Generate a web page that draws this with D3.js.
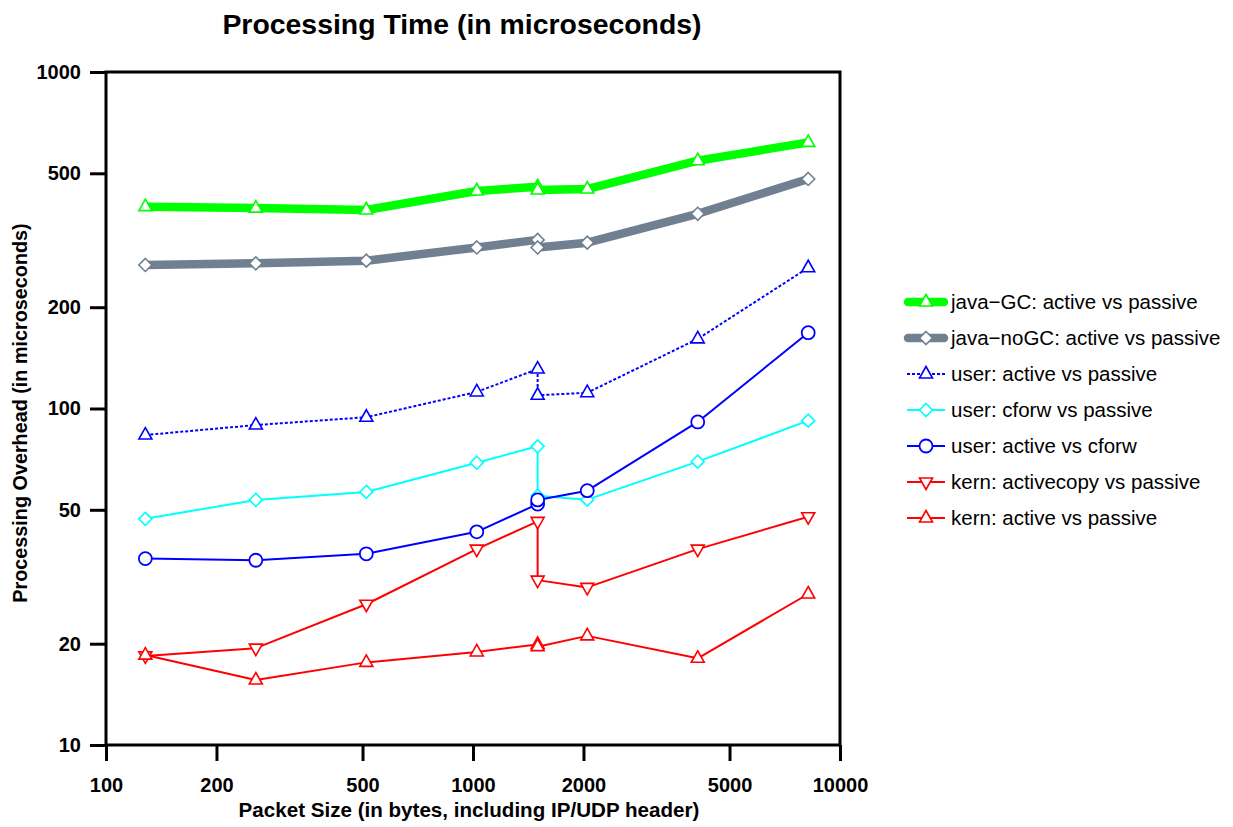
<!DOCTYPE html>
<html>
<head>
<meta charset="utf-8">
<script src="https://cdn.jsdelivr.net/npm/d3@7"></script>
<style>
  html, body { margin: 0; padding: 0; background: #fff; }
  svg { display: block; font-family: "Liberation Sans", Arial, Helvetica, sans-serif; }
</style>
</head>
<body>
<svg id="chart" width="1233" height="827"></svg>
<script>
// ---------- data ----------
const packetSizes = [128, 256, 512, 1024, 1500, 1500, 2048, 4096, 8192];
const javaGC      = [398, 394, 389, 443, 456, 446, 449, 545, 618];
const javaNoGC    = [267, 270, 275, 301, 317, 301, 311, 379, 481];
const userActivePassive = [83.4, 89.3, 94.2, 112, 131, 109.5, 111.4, 161, 262];
const userCforwPassive  = [47.0, 53.5, 56.5, 69.0, 77.2, 55.0, 53.6, 69.5, 92.0];
const userActiveCforw   = [35.8, 35.4, 37.0, 43.0, 52.0, 53.5, 57.0, 91.2, 168];
const kernActivecopyPassive = [18.4, 19.4, 26.2, 38.2, 46.2, 30.9, 29.4, 38.2, 47.7];
const kernActivePassive     = [18.5, 15.6, 17.6, 18.9, 19.9, 19.6, 21.1, 18.1, 28.1];
const seriesNames = [
  "java\u2212GC: active vs passive",
  "java\u2212noGC: active vs passive",
  "user: active vs passive",
  "user: cforw vs passive",
  "user: active vs cforw",
  "kern: activecopy vs passive",
  "kern: active vs passive"
];
const xTicks = [100, 200, 500, 1000, 2000, 5000, 10000];
const yTicks = [10, 20, 50, 100, 200, 500, 1000];
const titleText = "Processing Time (in microseconds)";
const xLabel = "Packet Size (in bytes, including IP/UDP header)";
const yLabel = "Processing Overhead (in microseconds)";

// ---------- styles ----------
const styles = [
  {values: javaGC, color: "#00ff00", width: 8.5, dash: null, marker: "tri", mstroke: "#00ff00"},
  {values: javaNoGC, color: "#708090", width: 8.5, dash: null, marker: "diamond", mstroke: "#708090"},
  {values: userActivePassive, color: "#0000ff", width: 2, dash: "3,2", marker: "tri", mstroke: "#0000ff"},
  {values: userCforwPassive, color: "#00ffff", width: 2, dash: null, marker: "diamond", mstroke: "#00ffff"},
  {values: userActiveCforw, color: "#0000ff", width: 2, dash: null, marker: "circle", mstroke: "#0000ff"},
  {values: kernActivecopyPassive, color: "#ff0000", width: 2, dash: null, marker: "dtri", mstroke: "#ff0000"},
  {values: kernActivePassive, color: "#ff0000", width: 2, dash: null, marker: "tri", mstroke: "#ff0000"}
];

const svg = d3.select("#chart");
const pLeft = 106, pRight = 840, pTop = 72, pBottom = 745;

const x = d3.scaleLog().domain([100, 10000]).range([pLeft, pRight]);
const y = d3.scaleLog().domain([10, 1000]).range([pBottom, pTop]);

// title
svg.append("text").attr("x", 462).attr("y", 34).attr("text-anchor", "middle")
  .attr("font-size", 28.4).attr("font-weight", "bold").text(titleText);

// axes
const xAxis = d3.axisBottom(x).tickValues(xTicks).tickFormat(d3.format("d")).tickSize(16).tickPadding(17);
const yAxis = d3.axisLeft(y).tickValues(yTicks).tickFormat(d3.format("d")).tickSize(16).tickPadding(9);

const gx = svg.append("g").attr("transform", `translate(0,${pBottom})`).call(xAxis);
const gy = svg.append("g").attr("transform", `translate(${pLeft},0)`).call(yAxis);
[gx, gy].forEach(g => {
  g.select(".domain").remove();
  g.selectAll(".tick line").attr("stroke", "#000").attr("stroke-width", 3);
  g.selectAll(".tick text").attr("font-size", 20).attr("font-weight", "bold")
    .attr("fill", "#000").attr("font-family", "'Liberation Sans', Arial, sans-serif");
});

// frame
svg.append("rect").attr("x", pLeft).attr("y", pTop).attr("width", pRight - pLeft).attr("height", pBottom - pTop)
  .attr("fill", "none").attr("stroke", "#000").attr("stroke-width", 3);

// axis labels
svg.append("text").attr("x", 469).attr("y", 817).attr("text-anchor", "middle")
  .attr("font-size", 20.6).attr("font-weight", "bold").text(xLabel);
svg.append("text").attr("transform", "translate(27,413) rotate(-90)").attr("text-anchor", "middle")
  .attr("font-size", 19.8).attr("font-weight", "bold").text(yLabel);

// markers
function markerPath(type) {
  if (type === "tri") return "M0,-7.5L6.5,4L-6.5,4Z";
  if (type === "dtri") return "M0,7.5L6.5,-4L-6.5,-4Z";
  if (type === "diamond") return "M0,-6.5L6.5,0L0,6.5L-6.5,0Z";
  return null;
}
function drawMarker(g, type, cx, cy, stroke) {
  if (type === "circle") {
    g.append("circle").attr("cx", cx).attr("cy", cy).attr("r", 6.5)
      .attr("fill", "#fff").attr("stroke", stroke).attr("stroke-width", 1.8);
  } else {
    g.append("path").attr("d", markerPath(type)).attr("transform", `translate(${cx},${cy})`)
      .attr("fill", "#fff").attr("stroke", stroke).attr("stroke-width", 1.6);
  }
}

const line = d3.line().x((d, i) => x(packetSizes[i])).y(d => y(d));
const plot = svg.append("g");
styles.forEach(s => {
  const g = plot.append("g");
  g.append("path").attr("d", line(s.values)).attr("fill", "none")
    .attr("stroke", s.color).attr("stroke-width", s.width)
    .attr("stroke-linejoin", "round")
    .attr("stroke-dasharray", s.dash);
  s.values.forEach((v, i) => drawMarker(g, s.marker, x(packetSizes[i]), y(v), s.mstroke));
});

// legend
const legend = svg.append("g");
styles.forEach((s, i) => {
  const ly = 302 + i * 36;
  const g = legend.append("g");
  const thick = s.width > 4;
  g.append("line").attr("x1", thick ? 908 : 907).attr("x2", thick ? 944 : 945)
    .attr("y1", ly).attr("y2", ly)
    .attr("stroke", s.color).attr("stroke-width", s.width)
    .attr("stroke-linecap", thick ? "round" : "butt")
    .attr("stroke-dasharray", s.dash);
  drawMarker(g, s.marker, 926, ly, s.mstroke);
  g.append("text").attr("x", 951).attr("y", ly + 7).attr("font-size", 20.5)
    .attr("fill", "#000").text(seriesNames[i]);
});
</script>
</body>
</html>
